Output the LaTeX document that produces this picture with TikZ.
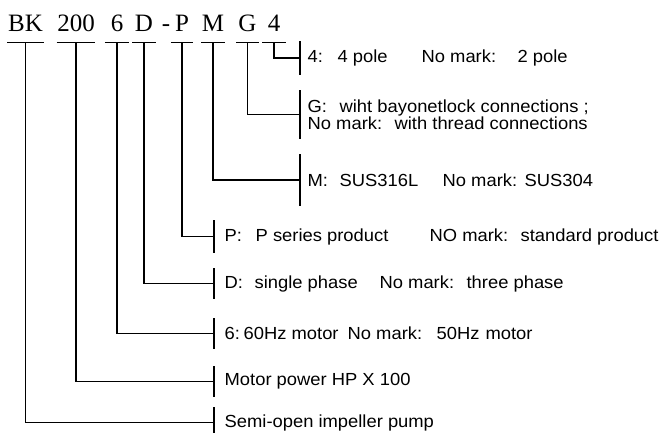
\documentclass[tikz,border=0pt]{standalone}
\usepackage{fontspec}
\setmainfont{Liberation Serif}
\newfontfamily\labelfont[FakeStretch=1.05]{Liberation Sans}
\usetikzlibrary{positioning}
\newcommand{\seg}[2]{\makebox[#1pt][l]{#2}}

\begin{document}
\begin{tikzpicture}[x=1pt, y=-1pt,
      line width=1.3pt,
      code/.style={font=\fontsize{25}{25}\selectfont, anchor=base, inner xsep=0pt,
        inner ysep=10.5pt, text depth=0pt, minimum width=#1},
      tag/.style={font=\labelfont\fontsize{17.5}{13}\selectfont, anchor=west, align=left,
        inner xsep=7pt, inner ysep=0pt, minimum height=#1pt,
        append after command={(\tikzlastnode.north west) edge[line width=1.7pt] (\tikzlastnode.south west)}},
      low/.style={inner xsep=10pt}]
    \useasboundingbox (0,0) rectangle (669,432);

    \node[code=35] (bk) at (25.5,31.5) {BK};
    \node[code=36] (hp) at (76,31.5) {200};
    \node[code=23] (hz) at (117,31.5) {6};
    \node[code=22] (ph) at (144,31.5) {D};
    \node[code=5] (dash) at (166,31.5) {-};
    \node[code=21] (ps) at (182,31.5) {P};
    \node[code=20] (mt) at (213,31.5) {M};
    \node[code=21] (cn) at (247.5,31.5) {G};
    \node[code=22] (pl) at (274,31.5) {4};

    \draw (bk.south west) -- (bk.south east);
    \draw (hp.south west) -- (hp.south east);
    \draw (hz.south west) -- (hz.south east);
    \draw (ph.south west) -- (ph.south east);
    \draw (ps.south west) -- (ps.south east);
    \draw (mt.south west) -- (mt.south east);
    \draw (cn.south west) -- (cn.south east);
    \draw (pl.south west) -- (pl.south east);

    \node[tag=32] (pole) at (300,58)
      {\seg{30}{4:}\seg{84}{4 pole}\seg{96}{No mark:}2 pole};
    \node[tag=47] (conn) at (300,114.5)
      {\seg{32}{G:}wiht bayonetlock connections ;\\\seg{87}{No mark:}with thread connections};
    \node[tag=50] (steel) at (300,180)
      {\seg{32}{M:}\seg{103}{SUS316L}\seg{82}{No mark:}SUS304};
    \node[tag=31, low] (series) at (214,236.5)
      {\seg{31}{P:}\seg{174}{P series product}\seg{91}{NO mark:}standard product};
    \node[tag=29, low] (phase) at (214,283.5)
      {\seg{30}{D:}\seg{125}{single phase}\seg{87}{No mark:}three phase};
    \node[tag=29, low] (freq) at (214,333.5)
      {\seg{19}{6:}\seg{104}{60Hz motor}\seg{89}{No mark:}50Hz\hspace{6pt}motor};
    \node[tag=29, low] (power) at (214,381.5) {Motor power HP X 100};
    \node[tag=29, low] (pump) at (214,422.5) {Semi-open impeller pump};

    \draw (pl.south) |- (pole.west);
    \draw (cn.south) |- (conn.west);
    \draw (mt.south) |- (steel.west);
    \draw (ps.south) |- (series.west);
    \draw (ph.south) |- (phase.west);
    \draw (hz.south) |- (freq.west);
    \draw (hp.south) |- (power.west);
    \draw (bk.south) |- (pump.west);
\end{tikzpicture}
\end{document}
